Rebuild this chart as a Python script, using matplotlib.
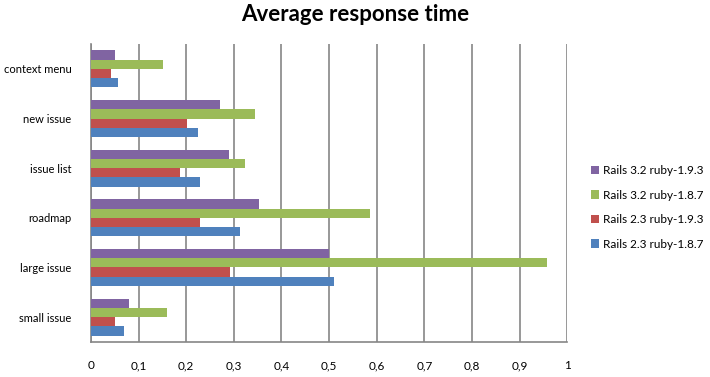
import numpy as np
import matplotlib.pyplot as plt

categories = ['small issue', 'large issue', 'roadmap', 'issue list', 'new issue', 'context menu']
series_names = ['Rails 2.3 ruby-1.8.7', 'Rails 2.3 ruby-1.9.3', 'Rails 3.2 ruby-1.8.7', 'Rails 3.2 ruby-1.9.3']
rails23_187 = [0.070, 0.511, 0.314, 0.228, 0.225, 0.057]
rails23_193 = [0.051, 0.291, 0.228, 0.188, 0.202, 0.043]
rails32_187 = [0.160, 0.957, 0.585, 0.324, 0.345, 0.152]
rails32_193 = [0.081, 0.499, 0.352, 0.289, 0.272, 0.051]
xticks = [0, 0.1, 0.2, 0.3, 0.4, 0.5, 0.6, 0.7, 0.8, 0.9, 1.0]
xticklabels = ['0', '0,1', '0,2', '0,3', '0,4', '0,5', '0,6', '0,7', '0,8', '0,9', '1']

colors = ['#4F81BD', '#C0504D', '#9BBB59', '#8064A2']
data = [rails23_187, rails23_193, rails32_187, rails32_193]

plt.rcParams['font.family'] = ['Lato', 'DejaVu Sans']

fig = plt.figure(figsize=(7.1, 3.77), dpi=100)
ax = fig.add_axes([0.128, 0.093, 0.671, 0.79])

y = np.arange(len(categories))
h = 0.187
for i, vals in enumerate(data):
    ax.barh(y + (i - 1.5) * h, vals, height=h, color=colors[i], label=series_names[i], zorder=3)

ax.set_xlim(0, 1)
ax.set_ylim(-0.5, len(categories) - 0.5)
ax.set_xticks(xticks)
ax.set_xticklabels(xticklabels, fontsize=8.5)
ax.set_yticks(y)
ax.set_yticklabels(categories, fontsize=8)
ax.tick_params(axis='x', length=0, pad=13)
ax.tick_params(axis='y', length=0, pad=14)
ax.grid(axis='x', color='#868686', linewidth=1.2, zorder=0)
for s in ['top', 'right']:
    ax.spines[s].set_visible(False)
for s in ['left', 'bottom']:
    ax.spines[s].set_color('#868686')
    ax.spines[s].set_linewidth(1.2)

fig.suptitle('Average response time', fontsize=16, fontweight='bold', y=0.99)

handles, labels = ax.get_legend_handles_labels()
fig.legend(handles[::-1], labels[::-1], loc='center left', bbox_to_anchor=(0.832, 0.45),
           frameon=False, fontsize=8.5, handlelength=0.7, handleheight=0.7,
           handletextpad=0.3, labelspacing=1.15, borderpad=0, borderaxespad=0)

plt.savefig('out.png', dpi=100)
